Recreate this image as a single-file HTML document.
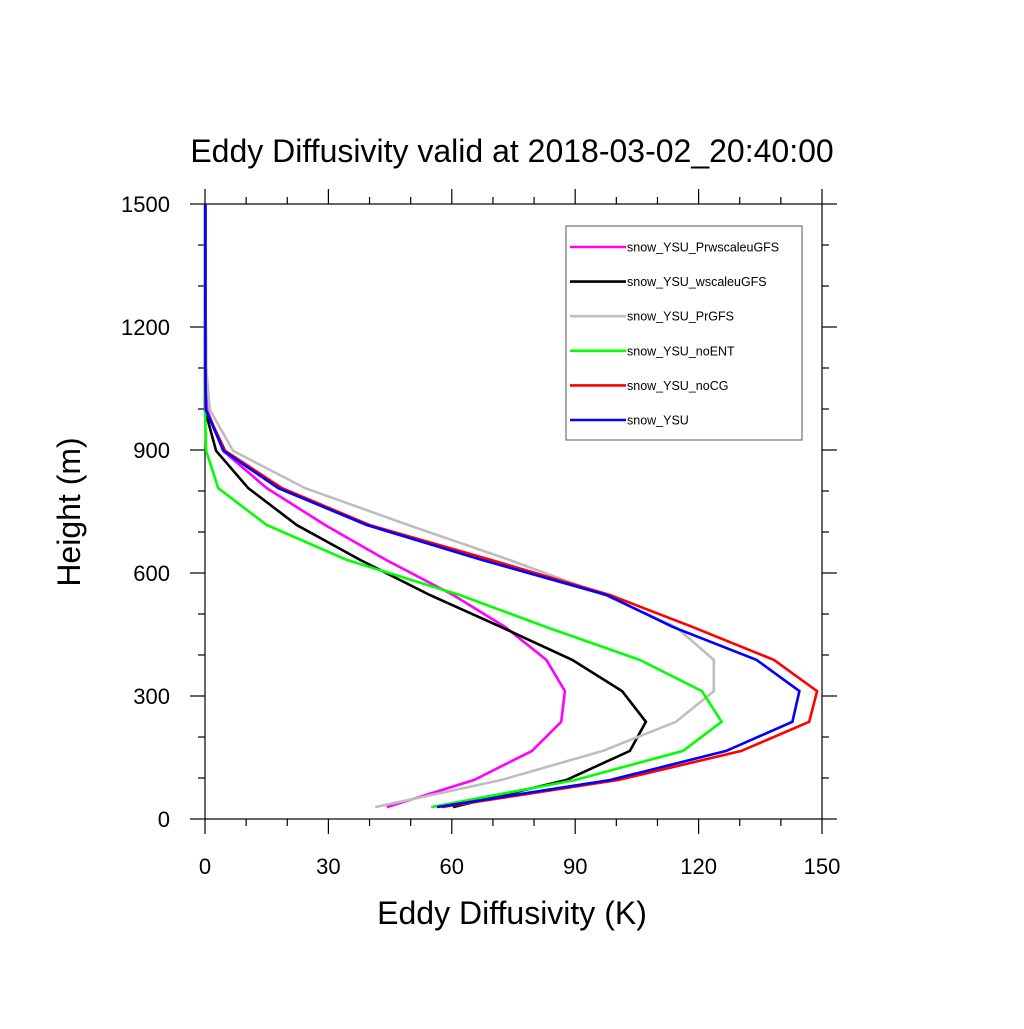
<!DOCTYPE html>
<html><head><meta charset="utf-8"><style>
body{margin:0;background:#fff;}
svg text{font-family:"Liberation Sans",sans-serif;fill:#000;}
</style></head><body>
<svg id="chart" width="1024" height="1024" viewBox="0 0 1024 1024" xmlns="http://www.w3.org/2000/svg">
<rect width="1024" height="1024" fill="#fff"/>
<text x="512" y="162" font-size="32" text-anchor="middle">Eddy Diffusivity valid at 2018-03-02_20:40:00</text>
<text x="512" y="924" font-size="32" text-anchor="middle">Eddy Diffusivity (K)</text>
<text transform="translate(80,512) rotate(-90)" font-size="32" text-anchor="middle">Height (m)</text>
<g id="axes"></g>
<g id="series"></g>
<g id="legend"></g>
</svg>
<script>
const heights=[29,95,166,237,312,388,468,546,632,717,807,898,998,1100,1200,1300,1400,1500];
const seriesNames=["snow_YSU_PrwscaleuGFS","snow_YSU_wscaleuGFS","snow_YSU_PrGFS","snow_YSU_noENT","snow_YSU_noCG","snow_YSU"];
const seriesColors=["#ff00ff","#000000","#bebebe","#00ff00","#ff0000","#0000ff"];
const magenta=[44.2,65.4,79.5,86.6,87.5,83,73,60.4,44,29.2,15,4.4,0.5,0.3,0.2,0.1,0.1,0.1];
const black=[60.3,87.8,103.3,107.2,101.4,89.3,72,54.7,37.7,22.3,10.5,2.7,0,0,0,0,0,0];
const gray=[41.4,72,96.7,114.5,123.7,123.7,114.5,97.2,74,49.4,24.3,6.8,1.2,0.3,0.2,0.1,0.1,0.1];
const green=[55,90,116.2,125.6,120.8,105.7,83,62,34.5,15,3.2,0.3,0,0,0,0,0,0];
const red=[57.6,100.4,130.4,146.9,148.8,138.3,118.6,98.5,69.5,40,18.7,4.9,0.2,0.1,0.1,0.1,0.1,0.1];
const blue=[56.4,98.5,126.7,142.8,144.5,134.1,113.8,97.7,67.3,39.3,17.8,4.5,0.2,0.1,0.1,0.1,0.1,0.1];
const allSeries=[magenta,black,gray,green,red,blue];
const xTicks=[0,30,60,90,120,150];
const yTicks=[0,300,600,900,1200,1500];
const NS="http://www.w3.org/2000/svg";
const L=205,R=822,T=204,B=819;
const xs=v=>L+(v/150)*(R-L);
const ys=h=>B-(h/1500)*(B-T);
function mk(t,a,p){const e=document.createElementNS(NS,t);for(const k in a)e.setAttribute(k,a[k]);p.appendChild(e);return e;}
const ax=document.getElementById('axes');
const fr=mk('rect',{x:L,y:T,width:R-L,height:B-T,fill:'none',stroke:'#000','stroke-width':1.2},ax);


for(let v=0;v<=150;v+=10){const maj=v%30===0;const len=maj?15:7;const x=xs(v);
 mk('line',{x1:x,y1:B,x2:x,y2:B+len,stroke:'#000','stroke-width':1.2},ax);
 mk('line',{x1:x,y1:T,x2:x,y2:T-len,stroke:'#000','stroke-width':1.2},ax);}
for(let h=0;h<=1500;h+=100){const maj=h%300===0;const len=maj?15:7;const y=ys(h);
 mk('line',{x1:L,y1:y,x2:L-len,y2:y,stroke:'#000','stroke-width':1.2},ax);
 mk('line',{x1:R,y1:y,x2:R+len,y2:y,stroke:'#000','stroke-width':1.2},ax);}
xTicks.forEach(v=>{const t=mk('text',{x:xs(v),y:874,'font-size':22,'text-anchor':'middle'},ax);t.textContent=v;
 
 });
yTicks.forEach(h=>{const t=mk('text',{x:170,y:ys(h)+8,'font-size':22,'text-anchor':'end'},ax);t.textContent=h;
 
 });
const sg=document.getElementById('series');
allSeries.forEach((arr,i)=>{const pts=arr.map((v,j)=>xs(v).toFixed(1)+','+ys(heights[j]).toFixed(1)).join(' ');
 const p=mk('polyline',{points:pts,fill:'none',stroke:seriesColors[i],'stroke-width':2.6,'stroke-linejoin':'miter'},sg);
 
 });
const lg=document.getElementById('legend');
const box=mk('rect',{x:566,y:226,width:236,height:214,fill:'#fff',stroke:'#555','stroke-width':1},lg);


seriesNames.forEach((n,i)=>{const y=247+i*34.6;
 const g=mk('g',{},lg);
 
 
 mk('line',{x1:570,y1:y,x2:626,y2:y,stroke:seriesColors[i],'stroke-width':2.6},g);
 const t=mk('text',{x:627,y:y+4.5,'font-size':12.5},g);t.textContent=n;});
</script>
</body></html>
